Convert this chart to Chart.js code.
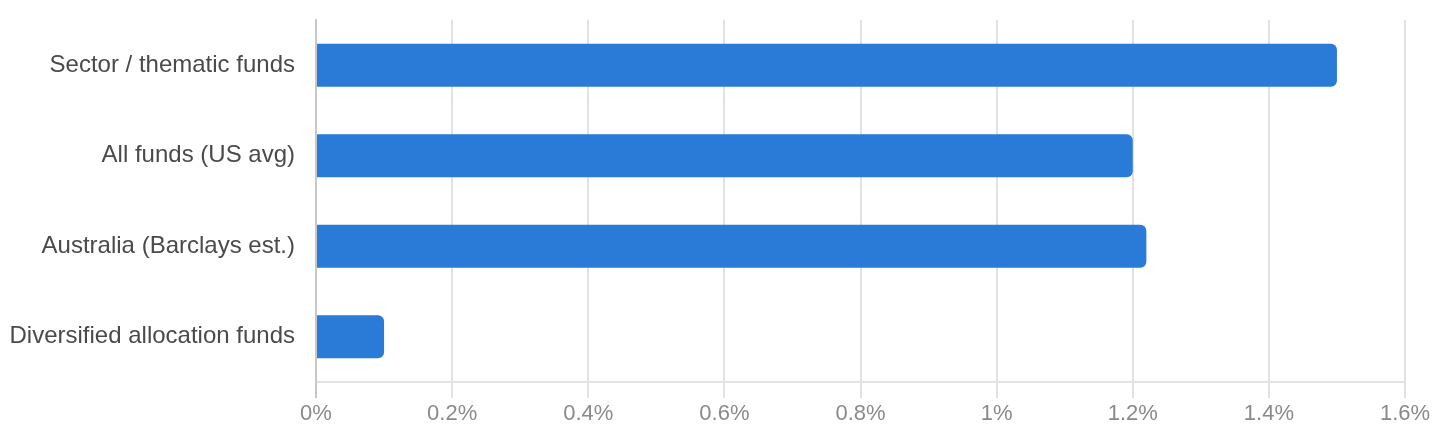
<!DOCTYPE html>
<html>
<head>
<meta charset="utf-8">
<script src="https://cdn.jsdelivr.net/npm/chart.js@4"></script>
<style>
  html, body { margin: 0; padding: 0; background: #fff; }
  #wrap { width: 1440px; height: 440px; }
</style>
</head>
<body>
<div id="wrap"><canvas id="feeChart"></canvas></div>
<script>
// categories and values (percent)
const categories = ['Sector / thematic funds', 'All funds (US avg)', 'Australia (Barclays est.)', 'Diversified allocation funds'];
const feeValues = [1.5, 1.2, 1.22, 0.1];
const tickMax = 1.6;
const tickStep = 0.2;

const ctx = document.getElementById('feeChart');
new Chart(ctx, {
    type: 'bar',
    data: {
        labels: categories,
        datasets: [{
            data: feeValues,
            backgroundColor: '#2a7ad8',
            borderRadius: 6,
            barPercentage: 0.475,
            categoryPercentage: 1
        }]
    },
    options: {
        indexAxis: 'y',
        responsive: true,
        maintainAspectRatio: false,
        animation: false,
        layout: { padding: { top: 20, right: 35, left: 0, bottom: 0 } },
        plugins: {
            legend: { display: false },
            tooltip: { enabled: false }
        },
        scales: {
            x: {
                min: 0,
                max: tickMax,
                ticks: {
                    stepSize: tickStep,
                    padding: 3,
                    color: '#8a8a8a',
                    font: { family: 'Liberation Sans', size: 22 },
                    callback: v => parseFloat(v.toFixed(2)) + '%'
                },
                grid: {
                    color: c => c.index === 0 ? '#c8c8c8' : '#e2e2e2',
                    lineWidth: 2,
                    tickLength: 16
                },
                border: { color: '#e2e2e2', width: 2 },
                afterFit: s => { s.height = 58; }
            },
            y: {
                ticks: {
                    padding: 21,
                    color: '#4a4a4a',
                    font: { family: 'Liberation Sans', size: 24 }
                },
                grid: { display: false, drawTicks: false },
                border: { color: '#c8c8c8', width: 2 },
                afterFit: s => {
                    s.width = 316;
                    s.paddingTop = 0;
                    s.paddingBottom = 0;
                }
            }
        }
    }
});
</script>
</body>
</html>
